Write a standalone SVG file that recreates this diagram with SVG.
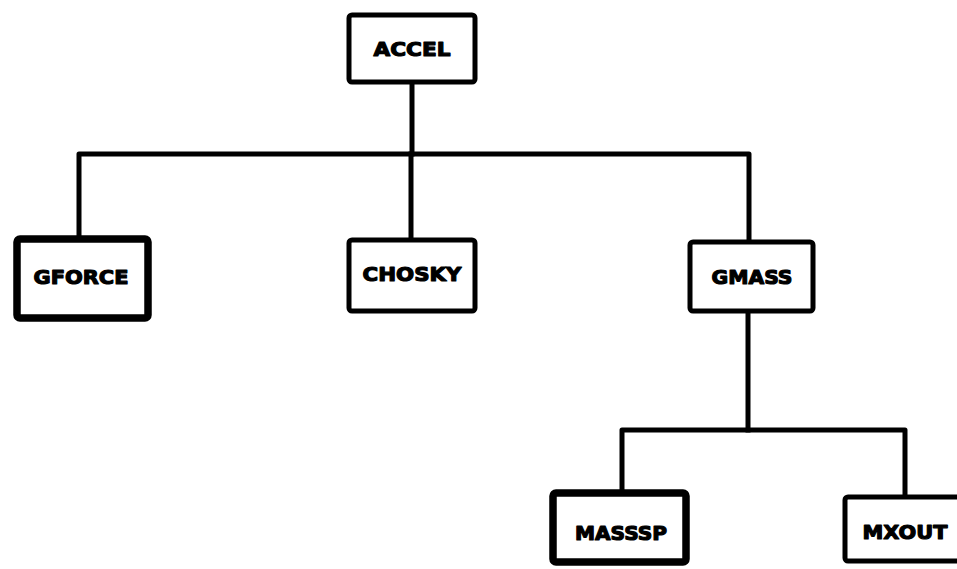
<svg xmlns="http://www.w3.org/2000/svg" width="957" height="569" viewBox="0 0 957 569">
  <style>
    .box { fill: #fff; stroke: #000; stroke-width: 5; stroke-linejoin: round; }
    .box.heavy { stroke-width: 7.5; }
    .lbl { font-family: "DejaVu Sans", "Liberation Sans", sans-serif; font-weight: bold; font-size: 20px; fill: #000; stroke: #000; stroke-width: 1.2; stroke-linejoin: round; text-anchor: middle; }
    .wire { fill: none; stroke: #000; stroke-width: 5; stroke-linejoin: round; stroke-linecap: square; }
  </style>
  <rect width="957" height="569" fill="#fff"/>

  <!-- tree connectors -->
  <g id="connectors">
    <path class="wire" d="M412,83 V154"/>
    <path class="wire" d="M79,237 V154 H749 V240"/>
    <path class="wire" d="M411,154 V238"/>
    <path class="wire" d="M748,313 V430"/>
    <path class="wire" d="M622,492 V430 H905 V495"/>
  </g>

  <g id="accel">
    <rect class="box" x="349" y="15" width="126" height="67" rx="3"/>
    <text class="lbl" x="412" y="56" textLength="77" lengthAdjust="spacingAndGlyphs">ACCEL</text>
  </g>

  <g id="gforce">
    <rect class="box heavy" x="17" y="239" width="131" height="79" rx="3"/>
    <text class="lbl" x="81" y="284" textLength="95" lengthAdjust="spacingAndGlyphs">GFORCE</text>
  </g>

  <g id="chosky">
    <rect class="box" x="349" y="240" width="126" height="71" rx="3"/>
    <text class="lbl" x="412" y="281" textLength="99" lengthAdjust="spacingAndGlyphs">CHOSKY</text>
  </g>

  <g id="gmass">
    <rect class="box" x="690" y="242" width="123" height="69" rx="3"/>
    <text class="lbl" x="752" y="284" textLength="81" lengthAdjust="spacingAndGlyphs">GMASS</text>
  </g>

  <g id="masssp">
    <rect class="box heavy" x="553" y="493" width="133" height="69" rx="3"/>
    <text class="lbl" x="621" y="540" textLength="92" lengthAdjust="spacingAndGlyphs">MASSSP</text>
  </g>

  <g id="mxout">
    <rect class="box" x="845" y="497" width="120" height="64" rx="3"/>
    <text class="lbl" x="905" y="539" textLength="85" lengthAdjust="spacingAndGlyphs">MXOUT</text>
  </g>
</svg>
